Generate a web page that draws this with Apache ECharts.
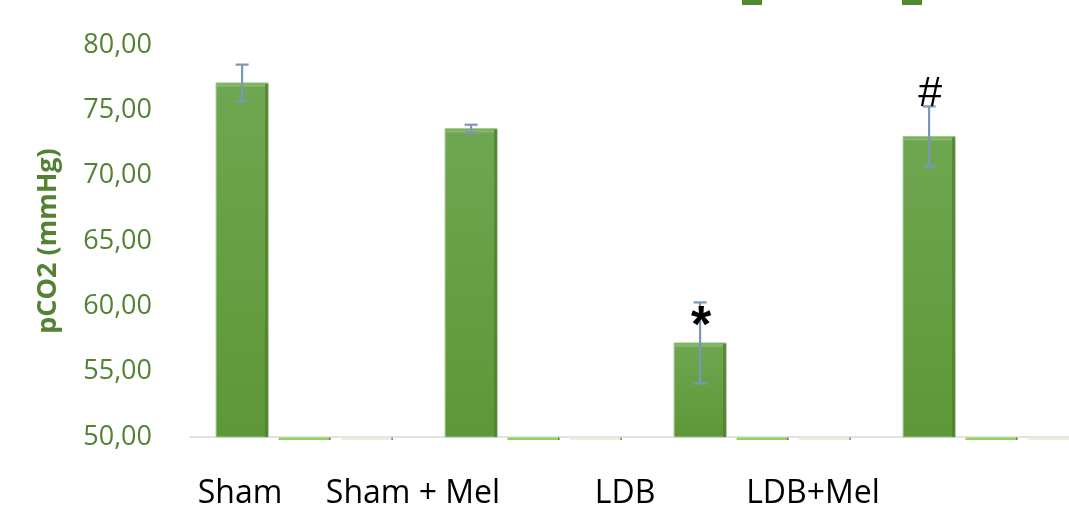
<!DOCTYPE html>
<html>
<head>
<meta charset="utf-8">
<title>pCO2 (mmHg)</title>
<script src="https://cdn.jsdelivr.net/npm/echarts@6/dist/echarts.min.js"></script>
<style>
  html, body { margin: 0; padding: 0; background: #ffffff; overflow: hidden; }
  #chart { width: 1106px; height: 508px; }
</style>
</head>
<body>
<div id="chart"></div>
<script>
// Groups on the category axis
const categories = ['Sham', 'Sham + Mel', 'LDB', 'LDB+Mel'];
// Mean pCO2 per group (mmHg) and its error
const pco2Mean = [77.1, 73.6, 57.2, 73.0];
const pco2Err = [1.4, 0.3, 3.1, 2.3];
// Two further series, empty in every group
const seriesB = [0, 0, 0, 0];
const seriesC = [0, 0, 0, 0];
// Significance marks above the error bars
const sigMarks = ['', '', '*', '#'];
// Value axis range
const yMin = 50, yMax = 80, yStep = 5;

// Layout (pixels / ratios); the plot runs past the right edge of the page
const GRID = { left: 190, top: 45, right: 0, bottom: 71 };
const BAR_RATIO = 52 / 229;   // bar width relative to the category band
const GAP_RATIO = 0.2;        // gap between bars relative to bar width
const labelCenters = [240, 413, 625, 813];
const markStyle = {
  '*': { font: 'bold 52px "Liberation Sans", Arial, sans-serif', dy: 25 },
  '#': { font: '43px "Liberation Sans", Arial, sans-serif', dy: -12 }
};

const GREEN_TEXT = '#548235';
const ERR_COLOR = '#7b96b8';

const chart = echarts.init(document.getElementById('chart'), null, { renderer: 'canvas' });

// Horizontal slot of bar k (0..2) inside a category band
function slot(api, idx, k) {
  const band = api.size([1, 0])[0];
  const w = band * BAR_RATIO;
  const step = w * (1 + GAP_RATIO);
  const cx = api.coord([idx, yMin])[0] + (k - 1) * step;
  return { cx: cx, w: w };
}

function renderMain(params, api) {
  const idx = api.value(0);
  const v = api.value(1);
  const s = slot(api, idx, 0);
  const top = api.coord([idx, v])[1];
  const base = api.coord([idx, yMin])[1];
  const x = s.cx - s.w / 2;
  return {
    type: 'group',
    children: [
      {
        type: 'rect',
        shape: { x: x, y: top, width: s.w, height: base - top },
        style: {
          fill: new echarts.graphic.LinearGradient(0, 0, 0, 1, [
            { offset: 0, color: '#6fa651' },
            { offset: 1, color: '#5e9737' }
          ]),
          stroke: '#a3c78d',
          lineWidth: 1
        }
      },
      {
        type: 'rect',
        shape: { x: x + s.w - 3, y: top + 1, width: 3, height: base - top - 1 },
        style: { fill: '#4b7a2e', opacity: 0.7 }
      },
      {
        type: 'rect',
        shape: { x: x + 1, y: top + 1, width: s.w - 4, height: 3 },
        style: { fill: '#8dbd70', opacity: 0.7 }
      }
    ]
  };
}

function renderStrip(k, fill) {
  return function (params, api) {
    const idx = api.value(0);
    const v = Math.max(api.value(1), yMin);
    const s = slot(api, idx, k);
    const y = api.coord([idx, v])[1];
    return {
      type: 'group',
      children: [
        {
          type: 'rect',
          shape: { x: s.cx - s.w / 2, y: y + 0.5, width: s.w, height: 2.5 },
          style: { fill: fill }
        },
        {
          type: 'rect',
          shape: { x: s.cx + s.w / 2 - 1.5, y: y + 0.5, width: 1.5, height: 2.5 },
          style: { fill: '#5d6b55', opacity: 0.8 }
        }
      ]
    };
  };
}

function renderError(params, api) {
  const idx = api.value(0);
  const v = api.value(1);
  const e = api.value(2);
  const s = slot(api, idx, 0);
  const hi = api.coord([idx, v + e])[1];
  const lo = api.coord([idx, v - e])[1];
  const cap = 6.5;
  const style = { stroke: ERR_COLOR, lineWidth: 2.2 };
  const children = [
    { type: 'line', shape: { x1: s.cx, y1: hi, x2: s.cx, y2: lo }, style: style },
    { type: 'line', shape: { x1: s.cx - cap, y1: hi, x2: s.cx + cap, y2: hi }, style: style },
    { type: 'line', shape: { x1: s.cx - cap, y1: lo, x2: s.cx + cap, y2: lo }, style: style }
  ];
  const mark = sigMarks[idx];
  if (mark) {
    const ms = markStyle[mark];
    children.push({
      type: 'text',
      style: {
        text: mark, x: s.cx + 1, y: hi + ms.dy,
        font: ms.font, fill: '#000000',
        align: 'center', verticalAlign: 'middle'
      }
    });
  }
  return { type: 'group', children: children };
}

const option = {
  animation: false,
  backgroundColor: '#ffffff',
  grid: GRID,
  xAxis: {
    type: 'category',
    data: categories,
    axisLine: { show: true, lineStyle: { color: '#d9d9d9', width: 1.5 } },
    axisTick: { show: false },
    axisLabel: { show: false },
    splitLine: { show: false }
  },
  yAxis: {
    type: 'value',
    min: yMin, max: yMax, interval: yStep,
    name: 'pCO2 (mmHg)',
    nameLocation: 'middle',
    nameGap: 128,
    nameTextStyle: {
      color: GREEN_TEXT, fontFamily: '"Open Sans", sans-serif',
      fontWeight: 'bold', fontSize: 27
    },
    axisLine: { show: false },
    axisTick: { show: false },
    splitLine: { show: false },
    axisLabel: {
      color: GREEN_TEXT, fontFamily: '"Open Sans", sans-serif', fontSize: 27,
      margin: 38,
      formatter: function (v) { return v.toFixed(2).replace('.', ','); }
    }
  },
  series: [
    {
      name: 'pCO2', type: 'custom', renderItem: renderMain,
      data: pco2Mean.map(function (v, i) { return [i, v]; }),
      encode: { x: 0, y: 1 }, z: 2
    },
    {
      name: 'B', type: 'custom', renderItem: renderStrip(1, '#94d15a'),
      data: seriesB.map(function (v, i) { return [i, v]; }),
      encode: { x: 0, y: 1 }, z: 2
    },
    {
      name: 'C', type: 'custom', renderItem: renderStrip(2, '#e6f2dc'),
      data: seriesC.map(function (v, i) { return [i, v]; }),
      encode: { x: 0, y: 1 }, z: 2
    },
    {
      name: 'error', type: 'custom', renderItem: renderError,
      data: pco2Mean.map(function (v, i) { return [i, v, pco2Err[i]]; }),
      encode: { x: 0, y: 1 }, z: 3
    }
  ],
  graphic: categories.map(function (c, i) {
    return {
      type: 'text',
      x: labelCenters[i], y: 478,
      style: {
        text: c, fill: '#000000',
        font: '32px "Open Sans", sans-serif',
        align: 'center', verticalAlign: 'top'
      }
    };
  }).concat([
    { type: 'rect', shape: { x: 742, y: 0, width: 20, height: 5 }, style: { fill: '#4f8a2b' } },
    { type: 'rect', shape: { x: 902, y: 0, width: 20, height: 5 }, style: { fill: '#4f8a2b' } }
  ])
};

chart.setOption(option);
</script>
</body>
</html>
